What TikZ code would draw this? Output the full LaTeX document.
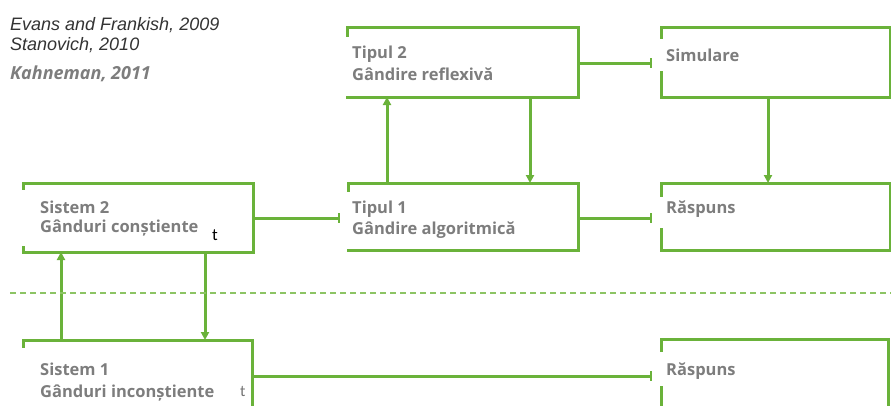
\documentclass[tikz,border=0pt]{standalone}
\usepackage{fontspec}
\setmainfont{Open Sans}
\newfontfamily\arialf{Liberation Sans}
\newfontfamily\calf{Carlito}
\usetikzlibrary{arrows.meta}
\definecolor{gr}{RGB}{106,178,58}
\definecolor{grl}{RGB}{140,196,100}
\definecolor{tx}{RGB}{125,125,125}
\begin{document}
\begin{tikzpicture}[x=1pt,y=-1pt,
  boxshape/.style={draw=none,rectangle,inner sep=0,outer sep=0,anchor=north west},
  boxline/.style={draw=gr,line width=3pt,line cap=rect},
  conn/.style={draw=gr,line width=3pt},
  arr/.style={conn,-{Triangle[length=8pt,width=8pt]}},
  barc/.style={conn,-{Bar[width=10pt,line width=2pt]}},
  lbl/.style={font=\fontsize{16.5}{22}\selectfont\bfseries,text=tx,anchor=base west,inner sep=0},
  cite/.style={font=\arialf\itshape\fontsize{18}{20}\selectfont,text=black!80,anchor=base west,inner sep=0}]
\useasboundingbox (0,0) rectangle (891,405);

% citations
\node[cite] (c1) at (10,30) {Evans and Frankish, 2009};
\node[cite] (c2) at (10,50) {Stanovich, 2010};
\node[lbl,font=\fontsize{18}{20}\selectfont\bfseries\itshape] (c3) at (10,79) {Kahneman, 2011};

% boxes
\node[boxshape,minimum width=231pt,minimum height=70pt] (t2) at (347,27) {};
\node[boxshape,minimum width=229pt,minimum height=70pt] (sim) at (661,27) {};
\node[boxshape,minimum width=230pt,minimum height=69pt] (s2) at (23,183) {};
\node[boxshape,minimum width=230pt,minimum height=67pt] (t1) at (348,183) {};
\node[boxshape,minimum width=229pt,minimum height=67pt] (r1) at (661,183) {};
\node[boxshape,minimum width=229pt,minimum height=80pt] (s1) at (23,340) {};
\node[boxshape,minimum width=227pt,minimum height=80pt] (r2) at (661,339) {};

% borders
\draw[boxline] ([yshift=-8pt]t2.north west) -- (t2.north west) -- (t2.north east) -- (t2.south east) -- (t2.south west);
\draw[boxline] ([yshift=-10pt]sim.north west) -- (sim.north west) -- (sim.north east) -- (sim.south east) -- (sim.south west) -- ([yshift=25pt]sim.south west);
\draw[boxline] ([yshift=-5pt]s2.north west) -- (s2.north west) -- (s2.north east) -- (s2.south east) -- (s2.south west) -- ([yshift=5pt]s2.south west);
\draw[boxline] ([yshift=-7pt]t1.north west) -- (t1.north west) -- (t1.north east) -- (t1.south east) -- (t1.south west);
\draw[boxline] ([yshift=-12pt]r1.north west) -- (r1.north west) -- (r1.north east) -- (r1.south east) -- (r1.south west) -- ([yshift=21pt]r1.south west);
\draw[boxline] ([yshift=-6pt]s1.north west) -- (s1.north west) -- (s1.north east) -- (s1.south east);
\draw[boxline] ([yshift=-11pt]r2.north west) -- (r2.north west) -- (r2.north east) -- (r2.south east);
\draw[boxline] ([yshift=-48pt]r2.north west) -- (r2.south west);

% texts
\node[lbl] (t2a) at (352,58) {Tipul 2};
\node[lbl] (t2b) at (352,80) {Gândire reflexivă};
\node[lbl] (sima) at (666,61) {Simulare};
\node[lbl] (s2a) at (40,213) {Sistem 2};
\node[lbl] (s2b) at (40,232) {Gânduri conștiente};
\node[anchor=base west,inner sep=0,font=\calf\fontsize{17}{19}\selectfont,text=black] (s2t) at (212,240) {t};
\node[lbl] (t1a) at (352,213) {Tipul 1};
\node[lbl] (t1b) at (352,234) {Gândire algoritmică};
\node[lbl] (r1a) at (666,213) {Răspuns};
\node[lbl] (s1a) at (40,375) {Sistem 1};
\node[lbl] (s1b) at (40,397) {Gânduri inconștiente};
\node[anchor=base west,inner sep=0,font=\calf\fontsize{16}{18}\selectfont,text=black!55] (s1t) at (240,396) {t};
\node[lbl] (r2a) at (666,375) {Răspuns};

% connectors
\coordinate (e1) at (652,63);
\draw[barc] (t2.east |- e1) -- (e1);
\coordinate (e2) at (340,218);
\draw[barc] (s2.east |- e2) -- (e2);
\coordinate (e3) at (652,218);
\draw[barc] (t1.east |- e3) -- (e3);
\coordinate (e4) at (652,376);
\draw[barc] (s1.east |- e4) -- (e4);

\coordinate (u1) at (387,0);
\draw[arr] (t1.north -| u1) -- (t2.south -| u1);
\coordinate (d1) at (530,0);
\draw[arr] (t2.south -| d1) -- (t1.north -| d1);
\coordinate (d2) at (768,0);
\draw[arr] (sim.south -| d2) -- (r1.north -| d2);
\coordinate (u2) at (61,0);
\draw[arr] (s1.north -| u2) -- (s2.south -| u2);
\coordinate (d3) at (205,0);
\draw[arr] (s2.south -| d3) -- (s1.north -| d3);

% dashed separator
\coordinate (l1) at (10,293);
\coordinate (l2) at (891,293);
\draw[grl,line width=1.8pt,dash pattern=on 6pt off 4pt] (l1) -- (l2);
\end{tikzpicture}
\end{document}
